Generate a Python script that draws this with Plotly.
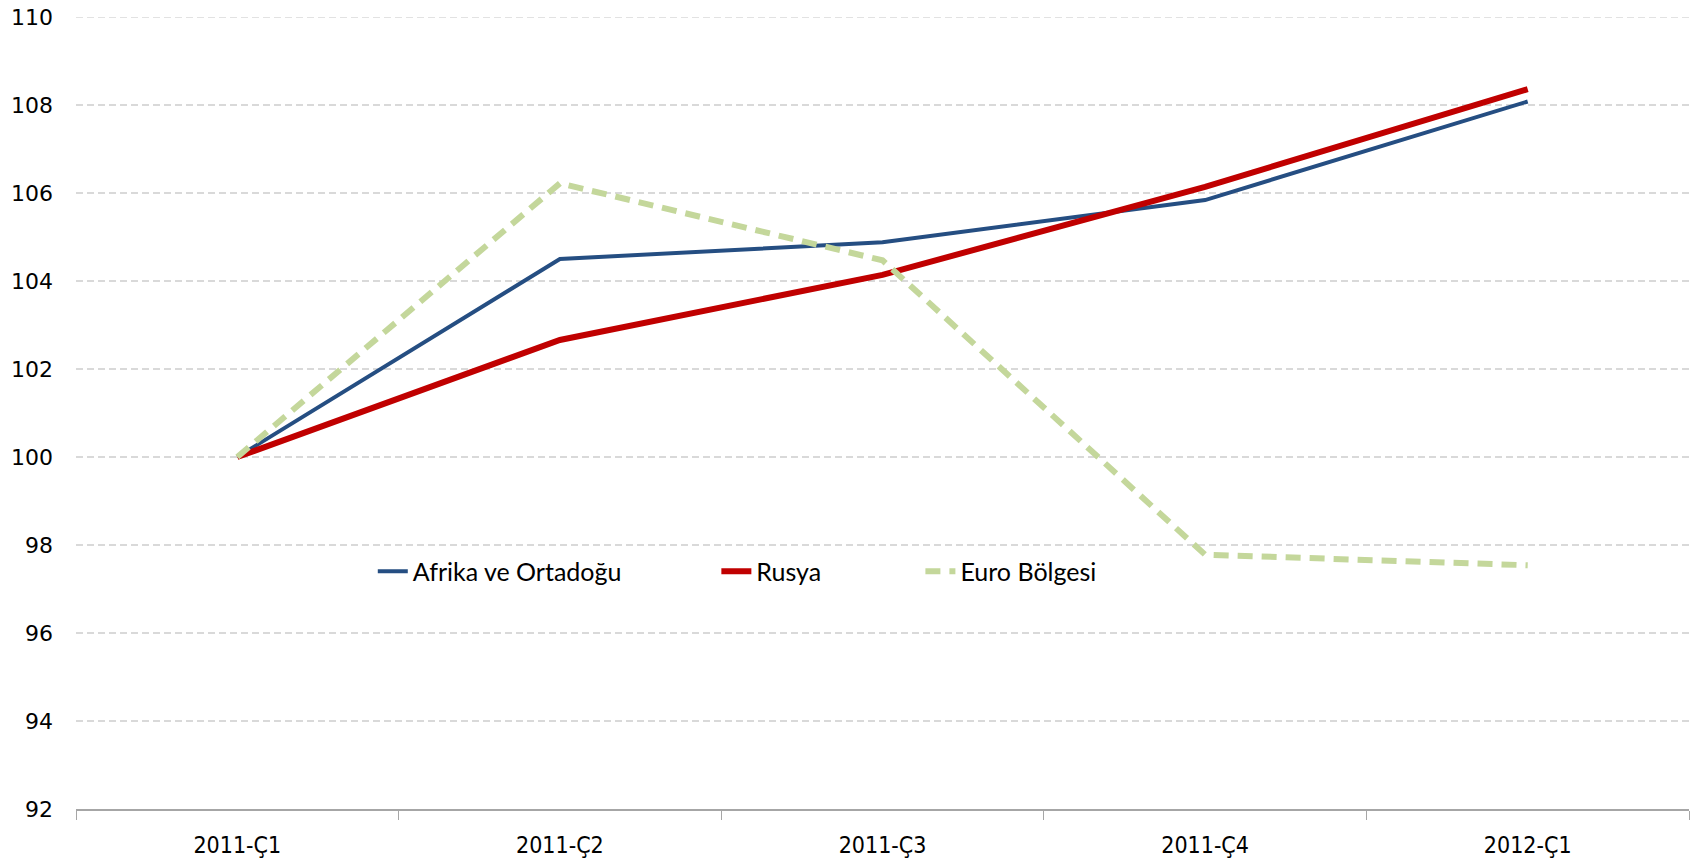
import plotly.graph_objects as go

quarters = ["2011-Ç1", "2011-Ç2", "2011-Ç3", "2011-Ç4", "2012-Ç1"]
afrika = [100.0, 104.5, 104.88, 105.84, 108.08]
rusya = [100.0, 102.66, 104.14, 106.14, 108.36]
euro = [100.0, 106.22, 104.47, 97.78, 97.54]
y_ticks = [92, 94, 96, 98, 100, 102, 104, 106, 108, 110]

fig = go.Figure()
fig.add_trace(go.Scatter(x=quarters, y=afrika, mode="lines", name="Afrika ve Ortadoğu",
                         line=dict(color="#254e82", width=4), legend="legend"))
fig.add_trace(go.Scatter(x=quarters, y=rusya, mode="lines", name="Rusya",
                         line=dict(color="#c00000", width=6), legend="legend2"))
fig.add_trace(go.Scatter(x=quarters, y=euro, mode="lines", name="Euro Bölgesi",
                         line=dict(color="#c4d79b", width=6, dash="15px,9px"), legend="legend3"))

# top gridline (plotly omits the gridline lying on the plot edge)
fig.add_hline(y=y_ticks[-1], line=dict(color="#d9d9d9", width=1.5, dash="7px,4px"), layer="below")

leg_common = dict(orientation="h", yanchor="middle", y=0.30, xanchor="left",
                  bgcolor="rgba(0,0,0,0)", borderwidth=0,
                  font=dict(family="Lato, Open Sans, sans-serif", size=25, color="#000000"))
fig.update_layout(
    width=1698, height=860,
    paper_bgcolor="white", plot_bgcolor="white",
    margin=dict(l=76, r=9, t=17, b=51, autoexpand=False),
    showlegend=True,
    legend=dict(x=0.184, **leg_common),
    legend2=dict(x=0.397, **leg_common),
    legend3=dict(x=0.5235, **leg_common),
    xaxis=dict(type="category", range=[-0.5, 4.5], showgrid=False, automargin=False,
               showline=True, linecolor="#a6a6a6", linewidth=2,
               ticks="outside", tickson="boundaries", ticklen=9, tickcolor="#a6a6a6", tickwidth=1,
               ticklabelstandoff=14,
               tickfont=dict(family="DejaVu Sans Condensed, DejaVu Sans", size=23, color="#000000")),
    yaxis=dict(range=[92, 110], tickvals=y_ticks, showgrid=True, gridcolor="#d9d9d9",
               griddash="7px,4px", gridwidth=1.5, zeroline=False, showline=False, ticks="",
               automargin=False, ticklabelstandoff=22,
               tickfont=dict(family="DejaVu Sans", size=22, color="#000000")),
)

fig.write_html("out.html",
               config={"displayModeBar": False},
               post_script="document.body.style.margin='0';document.body.style.overflow='hidden';")
